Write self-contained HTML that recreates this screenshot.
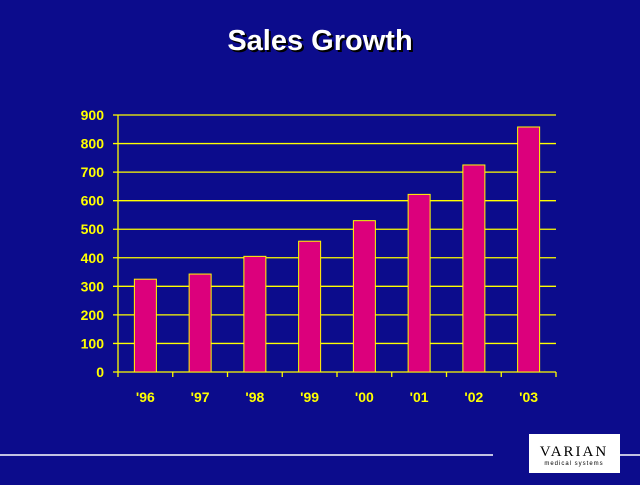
<!DOCTYPE html>
<html><head><meta charset="utf-8"><style>
body{margin:0;width:640px;height:480px;background:#0c0c8c;overflow:hidden;font-family:"Liberation Sans",sans-serif}
</style></head><body>
<svg width="640" height="480">
<text x="320" y="50" text-anchor="middle" font-size="29" font-weight="bold" fill="#fff" style="text-shadow:2px 2px 0 #000">Sales Growth</text>
<g id="g"></g>
<line x1="0" y1="455" x2="493" y2="455" stroke="#fff" stroke-width="1.5"/>
<line x1="620" y1="455" x2="640" y2="455" stroke="#fff" stroke-width="1.5"/>
<g>
<rect x="529" y="434" width="91" height="39" fill="#fff"/>
<text x="574" y="456" text-anchor="middle" font-size="15" font-family="Liberation Serif,serif" letter-spacing="2" fill="#000">VARIAN</text>
<text x="574" y="465" text-anchor="middle" font-size="6" fill="#000" letter-spacing="1">medical systems</text>
</g>
</svg>
<script>
const categories=["'96","'97","'98","'99","'00","'01","'02","'03"];
const values=[325,343,405,458,530,622,725,858];
const ticks=[0,100,200,300,400,500,600,700,800,900];
const NS="http://www.w3.org/2000/svg",g=document.getElementById('g');
const X0=118,X1=556,Y0=372,YT=115,YMAX=900;
const y=v=>Y0-(v/YMAX)*(Y0-YT);
const bw=(X1-X0)/categories.length;
const x=i=>X0+bw*(i+0.5);
function el(t,a){const e=document.createElementNS(NS,t);for(const k in a)e.setAttribute(k,a[k]);g.appendChild(e);return e;}
ticks.forEach(t=>{
 const l=el('line',{x1:X0-5,x2:X1,y1:y(t),y2:y(t),stroke:'#ffff00','stroke-width':1.3});
 
 
 const tx=el('text',{x:104,y:y(t)+5,'text-anchor':'end','font-size':14,'font-weight':'bold',fill:'#ffff00'});
 tx.textContent=t;
 
 
});
const ax=el('line',{x1:X0,x2:X0,y1:YT,y2:Y0,stroke:'#ffff00','stroke-width':1.3});


for(let i=0;i<=categories.length;i++){
 const tk=el('line',{x1:X0+bw*i,x2:X0+bw*i,y1:Y0,y2:Y0+5,stroke:'#ffff00','stroke-width':1.3});
 
 
}
categories.forEach((c,i)=>{
 const r=el('rect',{x:x(i)-11,y:y(values[i]),width:22,height:Y0-y(values[i]),fill:'#dc007c',stroke:'#ffff00','stroke-width':1});
 
 
 const t=el('text',{x:x(i),y:402,'text-anchor':'middle','font-size':14,'font-weight':'bold',fill:'#ffff00'});
 t.textContent=c;
 
 
});
</script>
</body></html>
